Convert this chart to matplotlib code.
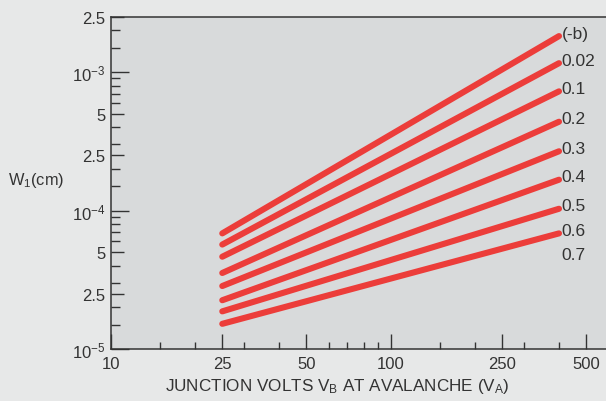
import matplotlib.pyplot as plt
import numpy as np

plt.rcParams['font.family'] = ['Liberation Sans', 'DejaVu Sans']
plt.rcParams['mathtext.default'] = 'regular'

# values (log-log straight lines)
volts = [25, 400]
w_start = [6.84e-5, 5.68e-5, 4.64e-5, 3.54e-5, 2.85e-5, 2.25e-5, 1.87e-5, 1.52e-5]
w_end = [1.82e-3, 1.16e-3, 7.26e-4, 4.38e-4, 2.68e-4, 1.67e-4, 1.03e-4, 6.84e-5]
curve_labels = ['(-b)', '0.02', '0.1', '0.2', '0.3', '0.4', '0.5', '0.6', '0.7']

x_ticks = [10, 25, 50, 100, 250, 500]
x_minor = [15, 20, 30, 40, 60, 70, 80, 90, 150, 200, 300, 400]
y_ticks = [1e-5, 2.5e-5, 5e-5, 1e-4, 2.5e-4, 5e-4, 1e-3, 2.5e-3]
y_tick_labels = [r'$10^{-5}$', '2.5', '5', r'$10^{-4}$', '2.5', '5', r'$10^{-3}$', '2.5']
y_minor = [1.5e-5, 2e-5, 3e-5, 4e-5, 6e-5, 7e-5, 8e-5, 9e-5,
           1.5e-4, 2e-4, 3e-4, 4e-4, 6e-4, 7e-4, 8e-4, 9e-4, 1.5e-3, 2e-3]

ink = '#333333'
red = '#ec3d3a'

fig = plt.figure(figsize=(6.06, 4.02), dpi=100, facecolor='#e7e8e8')
ax = fig.add_axes([111 / 606, 52 / 402, 1 - 111 / 606, 332 / 402])
ax.set_facecolor('#d8dadb')

for y0, y1 in zip(w_start, w_end):
    ax.plot(volts, [y0, y1], color=red, lw=4.4, solid_capstyle='round')

# curve labels at the line ends, last one hangs below
for i, lab in enumerate(curve_labels):
    j = min(i, len(w_end) - 1)
    dy = 2 if i < len(w_end) else -15
    ax.annotate(lab, (volts[1], w_end[j]), xytext=(2, dy), textcoords='offset points',
                ha='left', va='center', fontsize=12.5, color=ink)

ax.set_xscale('log')
ax.set_yscale('log')
ax.set_xlim(10, 589)
ax.set_ylim(1e-5, 2.5e-3)

ax.set_xticks(x_ticks)
ax.set_xticklabels([str(v) for v in x_ticks])
ax.set_xticks(x_minor, minor=True)
ax.set_yticks(y_ticks)
ax.set_yticklabels(y_tick_labels)
ax.set_yticks(y_minor, minor=True)
ax.xaxis.set_minor_formatter(plt.NullFormatter())
ax.yaxis.set_minor_formatter(plt.NullFormatter())

ax.tick_params(which='both', direction='in', colors=ink, labelsize=12, width=1.0)
ax.tick_params(axis='x', which='major', length=11, pad=5)
ax.tick_params(axis='x', which='minor', length=5)
ax.tick_params(axis='y', which='major', length=9, pad=4)
ax.tick_params(axis='y', which='minor', length=6.5)
for t, v in zip(ax.yaxis.get_major_ticks(), y_ticks):
    if np.isclose(np.log10(v), round(np.log10(v))):
        t.tick1line.set_markersize(13)

for side in ['left', 'bottom', 'top']:
    ax.spines[side].set_color(ink)
    ax.spines[side].set_linewidth(1.1)
ax.spines['right'].set_visible(False)

ax.set_xlabel(r'JUNCTION VOLTS V$_B$ AT AVALANCHE (V$_A$)', fontsize=12.3, color=ink)
ax.xaxis.set_label_coords(0.458, -0.08)
fig.text(8 / 606, 1 - 181 / 402, r'W$_1$(cm)', fontsize=11.8, color=ink, ha='left', va='center')

fig.savefig('out.png', dpi=100, facecolor=fig.get_facecolor())
